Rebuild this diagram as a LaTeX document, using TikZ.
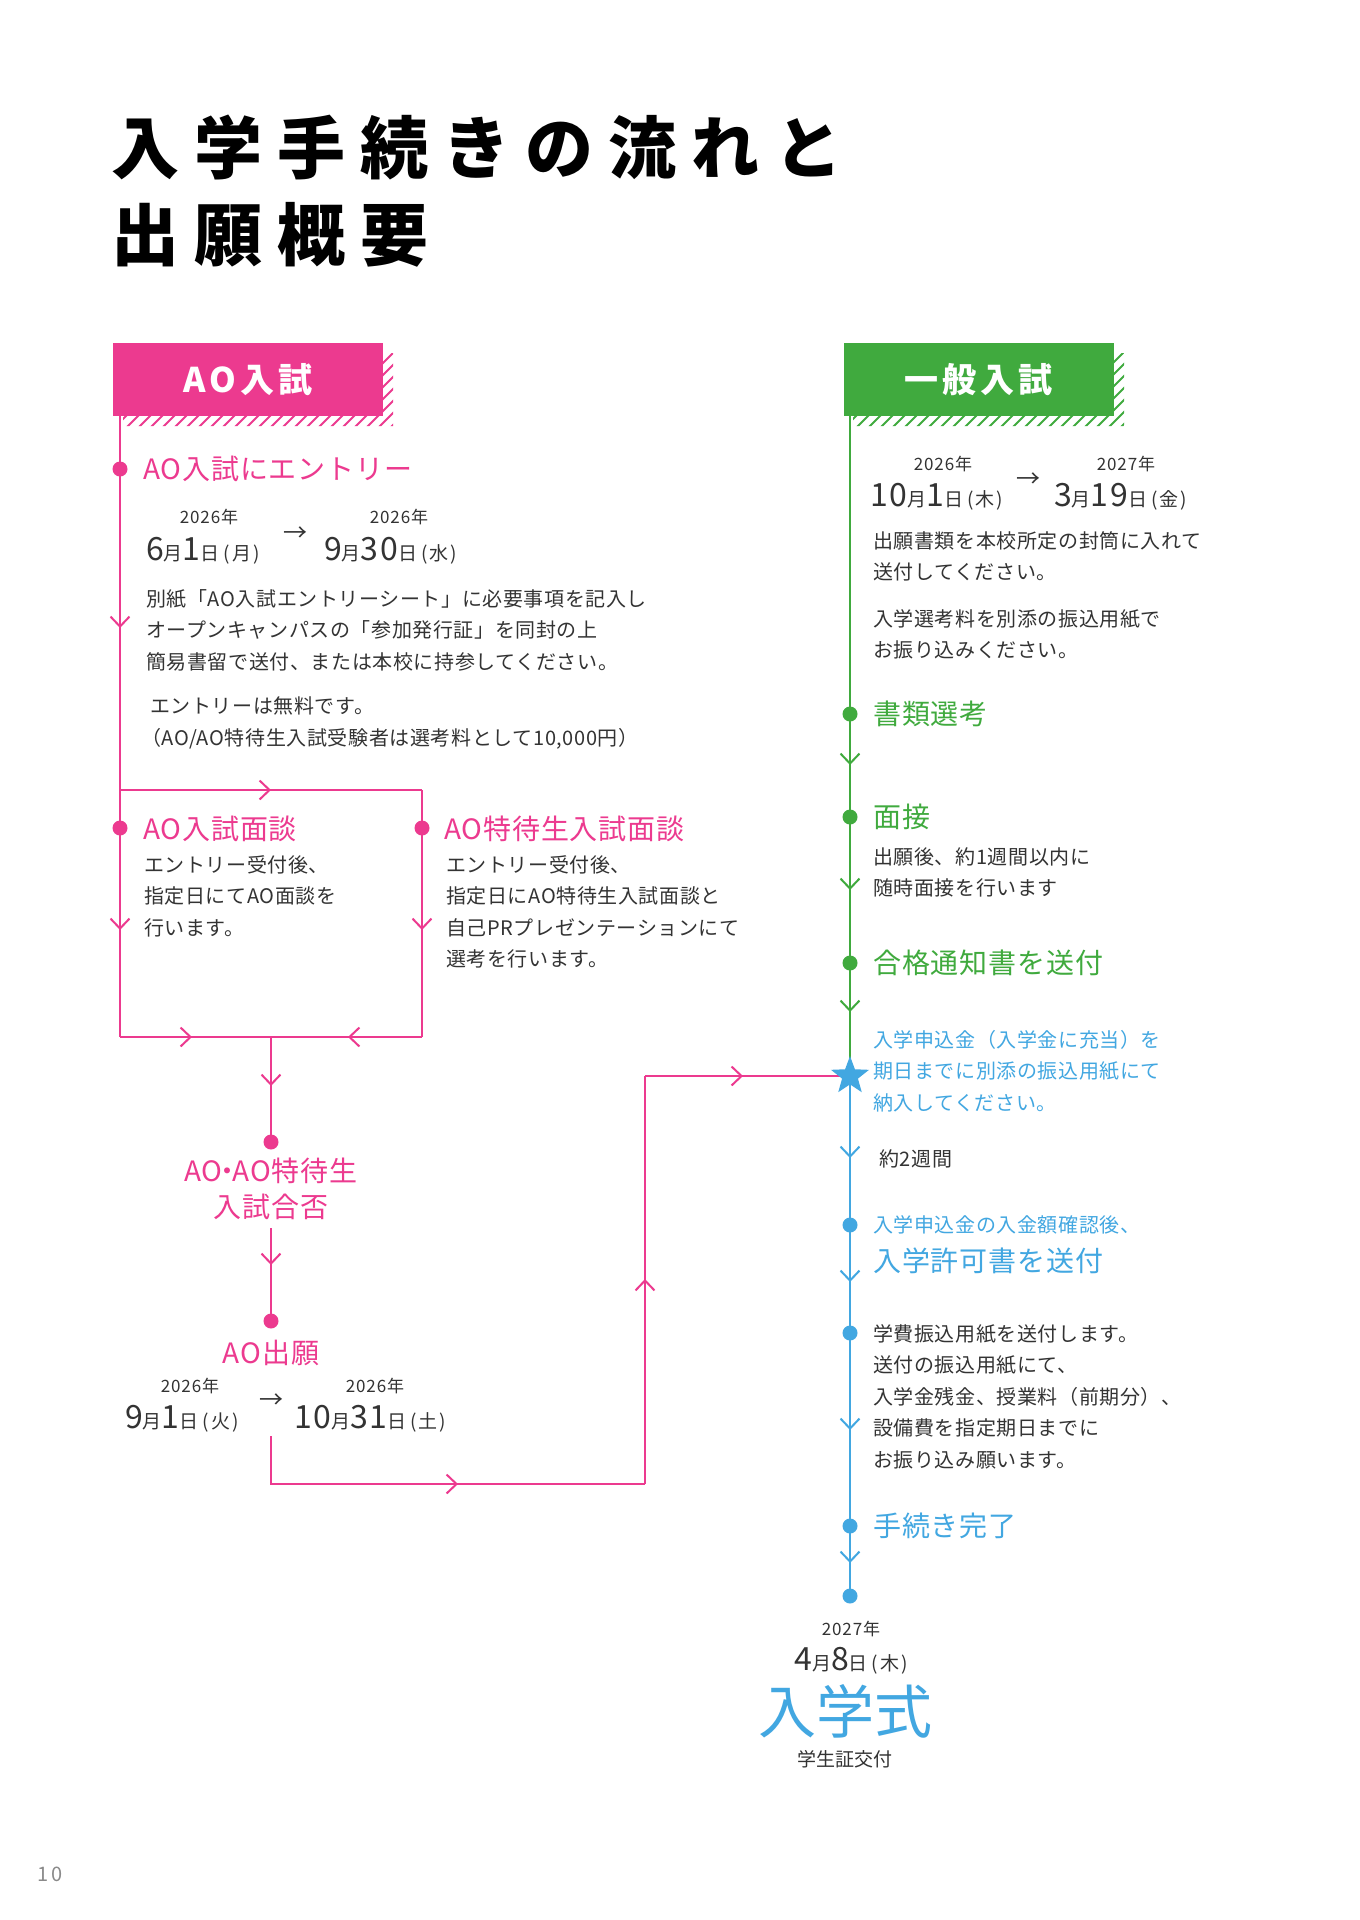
\documentclass[tikz,border=0pt]{standalone}
\usepackage{fontspec}
\setmainfont{Noto Sans CJK JP}
\newfontfamily\jp{Noto Sans CJK JP}
\newfontfamily\jpttl[LetterSpace=22]{Noto Sans CJK JP}
\newfontfamily\jpbx[LetterSpace=12]{Noto Sans CJK JP}
\newfontfamily\jplb[LetterSpace=3]{Noto Sans CJK JP}
\newfontfamily\jpbd[LetterSpace=3]{Noto Sans CJK JP}
\newfontfamily\jpdt[LetterSpace=5]{Noto Sans CJK JP}
\newfontfamily\jppg[LetterSpace=15]{Noto Sans CJK JP}
\usetikzlibrary{arrows.meta,decorations.markings,shapes.geometric}
\definecolor{pk}{HTML}{EC3A8F}
\definecolor{gr}{HTML}{40AA3E}
\definecolor{bu}{HTML}{42A7E1}
\definecolor{tx}{HTML}{333333}
\definecolor{pg}{HTML}{8A8A8A}
\newcommand\Dg[1]{{\fontsize{32}{32}\selectfont #1}}
\newcommand\Ku[1]{{\fontsize{19}{19}\selectfont #1}}
\newcommand\Wd[1]{{\fontsize{19}{19}\selectfont\kern4pt(\kern2pt#1\kern2pt)}}
\tikzset{
  lbl/.style={anchor=west, inner sep=0, font=\jplb\fontsize{28}{28}\selectfont},
  bodyt/.style={anchor=north west, inner sep=0, align=left, text=tx, font=\jpbd\fontsize{20}{31.5}\selectfont},
  yr/.style={inner sep=0, text=tx, font=\jpdt\fontsize{17}{17}\selectfont},
  dte/.style={anchor=west, inner sep=0, text=tx, font=\jpdt},
  arw/.style={inner sep=0, text=tx, font=\jp\fontsize{24}{24}\selectfont},
  dot/.style={circle, inner sep=0, minimum size=15pt, fill=#1, draw=none},
  ln/.style={draw=#1, line width=2pt},
  marr/.style={postaction={decorate}, decoration={markings, mark=at position #1 with {\arrow{Straight Barb[length=10pt,width=19pt]}}}},
  hbox/.style={fill=#1, minimum width=270pt, minimum height=73pt, inner sep=0, text=white, font=\jpbx\bfseries\fontsize{34}{34}\selectfont},
}
\begin{document}
\begin{tikzpicture}[x=1pt,y=-1pt]
\fill[white] (0,0) rectangle (1360,1920);
\useasboundingbox (0,0) rectangle (1360,1920);

% title
\node[anchor=west, inner sep=0, font=\jpttl\bfseries\fontsize{68}{68}\selectfont] (t1) at (111,147) {入学手続きの流れと};
\node[anchor=west, inner sep=0, font=\jpttl\bfseries\fontsize{68}{68}\selectfont] (t2) at (111,235) {出願概要};

% hatched shadows
\begin{scope}
\clip (383,353) -- (393,353) -- (393,426) -- (123,426) -- (123,416) -- (383,416) -- cycle;
\foreach \c in {530,542,...,842} \draw[pk, line width=1.8pt] (\c-440,440) -- (\c-340,340);
\end{scope}
\begin{scope}
\clip (1114,353) -- (1124,353) -- (1124,426) -- (853,426) -- (853,416) -- (1114,416) -- cycle;
\foreach \c in {1260,1272,...,1572} \draw[gr, line width=1.8pt] (\c-440,440) -- (\c-340,340);
\end{scope}

% header boxes
\node[hbox=pk] (aobox) at (248,379.5) {AO入試};
\node[hbox=gr] (gnbox) at (978.5,379.5) {一般入試};

% coordinates
\coordinate (aoTop) at (120,416);
\coordinate (d1) at (120,469);
\coordinate (br) at (120,790);
\coordinate (brR) at (422,790);
\coordinate (d2) at (120,828);
\coordinate (d3) at (422,828);
\coordinate (bl) at (120,1037);
\coordinate (brr) at (422,1037);
\coordinate (mj) at (271,1037);
\coordinate (d4) at (271,1142);
\coordinate (d4b) at (271,1228);
\coordinate (d5) at (271,1321);
\coordinate (p1) at (271,1436);
\coordinate (p2) at (271,1484);
\coordinate (p3) at (645,1484);
\coordinate (p4) at (645,1076);
\coordinate (gTop) at (850,416);
\coordinate (g1) at (850,714);
\coordinate (g2) at (850,817);
\coordinate (g3) at (850,963);
\coordinate (st) at (850,1076);
\coordinate (b1) at (850,1225);
\coordinate (b2) at (850,1333);
\coordinate (b3) at (850,1526);
\coordinate (b4) at (850,1596);

% pink connectors
\draw[ln=pk] (aoTop) -- (d1);
\draw[ln=pk, marr=159pt] (d1) -- (br);
\draw[ln=pk] (br) -- (d2);
\draw[ln=pk, marr=102pt] (d2) -- (bl);
\draw[ln=pk, marr=151pt] (br) -- (brR);
\draw[ln=pk] (brR) -- (d3);
\draw[ln=pk, marr=102pt] (d3) -- (brr);
\draw[ln=pk, marr=72pt] (bl) -- (mj);
\draw[ln=pk, marr=74pt] (brr) -- (mj);
\draw[ln=pk, marr=49pt] (mj) -- (d4);
\draw[ln=pk, marr=37pt] (d4b) -- (d5);
\draw[ln=pk, marr=235pt] (p1) -- (p2) -- (p3);
\draw[ln=pk, marr=205pt] (p3) -- (p4);
\draw[ln=pk, marr=98pt] (p4) -- (st);

% green connectors
\draw[ln=gr] (gTop) -- (g1);
\draw[ln=gr, marr=51pt] (g1) -- (g2);
\draw[ln=gr, marr=73pt] (g2) -- (g3);
\draw[ln=gr, marr=49pt] (g3) -- (st);

% blue connectors
\draw[ln=bu, marr=82pt] (st) -- (b1);
\draw[ln=bu, marr=57pt] (b1) -- (b2);
\draw[ln=bu, marr=97pt] (b2) -- (b3);
\draw[ln=bu, marr=37pt] (b3) -- (b4);

% dots
\node[dot=pk] (nd1) at (d1) {};
\node[dot=pk] (nd2) at (d2) {};
\node[dot=pk] (nd3) at (d3) {};
\node[dot=pk] (nd4) at (d4) {};
\node[dot=pk] (nd5) at (d5) {};
\node[dot=gr] (ng1) at (g1) {};
\node[dot=gr] (ng2) at (g2) {};
\node[dot=gr] (ng3) at (g3) {};
\node[star, star points=5, star point ratio=2.4, minimum size=40pt, inner sep=0, fill=bu] (nst) at (st) {};
\node[dot=bu] (nb1) at (b1) {};
\node[dot=bu] (nb2) at (b2) {};
\node[dot=bu] (nb3) at (b3) {};
\node[dot=bu] (nb4) at (b4) {};

% AO column
\node[lbl, text=pk] (l1) at (143,469) {AO入試にエントリー};
\node[yr] (y1) at (209,517) {2026年};
\node[dte] (da1) at (146,551) {\Dg{6}\Ku{月}\Dg{1}\Ku{日}\Wd{月}};
\node[arw] (ar1) at (295,534) {→};
\node[yr] (y2) at (399,517) {2026年};
\node[dte] (da2) at (324,551) {\Dg{9}\Ku{月}\Dg{30}\Ku{日}\Wd{水}};
\node[bodyt] (tb1) at (146,589) {別紙「AO入試エントリーシート」に必要事項を記入し\\オープンキャンパスの「参加発行証」を同封の上\\簡易書留で送付、または本校に持参してください。};
\node[bodyt] (tb2) at (150,696) {エントリーは無料です。};
\node[bodyt] (tb3) at (141,728) {（AO/AO特待生入試受験者は選考料として10,000円）};

\node[lbl, text=pk] (l2) at (143,829) {AO入試面談};
\node[bodyt] (tb4) at (144,855) {エントリー受付後、\\指定日にてAO面談を\\行います。};
\node[lbl, text=pk] (l3) at (444,829) {AO特待生入試面談};
\node[bodyt] (tb5) at (446,855) {エントリー受付後、\\指定日にAO特待生入試面談と\\自己PRプレゼンテーションにて\\選考を行います。};

\node[lbl, anchor=center, text=pk] (l4) at (271,1171) {AO\kern-9pt・\kern-9pt AO特待生};
\node[lbl, anchor=center, text=pk] (l5) at (271,1207) {入試合否};
\node[lbl, anchor=center, text=pk] (l6) at (271,1353) {AO出願};
\node[yr] (y3) at (190,1386) {2026年};
\node[dte] (da3) at (125,1419) {\Dg{9}\Ku{月}\Dg{1}\Ku{日}\Wd{火}};
\node[arw] (ar2) at (271,1401) {→};
\node[yr] (y4) at (375,1386) {2026年};
\node[dte] (da4) at (294,1419) {\Dg{10}\Ku{月}\Dg{31}\Ku{日}\Wd{土}};

% general column
\node[yr] (y5) at (943,464) {2026年};
\node[dte] (da5) at (870,497) {\Dg{10}\Ku{月}\Dg{1}\Ku{日}\Wd{木}};
\node[arw] (ar3) at (1028,480) {→};
\node[yr] (y6) at (1126,464) {2027年};
\node[dte] (da6) at (1054,497) {\Dg{3}\Ku{月}\Dg{19}\Ku{日}\Wd{金}};
\node[bodyt] (tg1) at (873,531) {出願書類を本校所定の封筒に入れて\\送付してください。};
\node[bodyt] (tg2) at (873,609) {入学選考料を別添の振込用紙で\\お振り込みください。};
\node[lbl, text=gr] (lg1) at (873,714) {書類選考};
\node[lbl, text=gr] (lg2) at (873,817) {面接};
\node[bodyt] (tg3) at (873,847) {出願後、約1週間以内に\\随時面接を行います};
\node[lbl, text=gr] (lg3) at (873,963) {合格通知書を送付};
\node[bodyt, text=bu] (tg4) at (873,1030) {入学申込金（入学金に充当）を\\期日までに別添の振込用紙にて\\納入してください。};
\node[bodyt] (tg5) at (879,1149) {約2週間};
\node[bodyt, text=bu] (tg6) at (873,1215) {入学申込金の入金額確認後、};
\node[lbl, text=bu] (lg4) at (873,1261) {入学許可書を送付};
\node[bodyt] (tg7) at (873,1324) {学費振込用紙を送付します。\\送付の振込用紙にて、\\入学金残金、授業料（前期分）、\\設備費を指定期日までに\\お振り込み願います。};
\node[lbl, text=bu] (lg5) at (873,1526) {手続き完了};
\node[yr] (y7) at (851,1629) {2027年};
\node[dte, anchor=center] (da7) at (851,1661) {\Dg{4}\Ku{月}\Dg{8}\Ku{日}\Wd{木}};
\node[inner sep=0, text=bu, font=\jp\fontsize{58}{58}\selectfont] (ent) at (845,1711) {入学式};
\node[inner sep=0, text=tx, font=\jp\fontsize{19}{19}\selectfont] (sid) at (845,1759) {学生証交付};

% page number
\node[inner sep=0, text=pg, font=\jppg\fontsize{20}{20}\selectfont] (pgn) at (50,1874) {10};
\end{tikzpicture}
\end{document}
